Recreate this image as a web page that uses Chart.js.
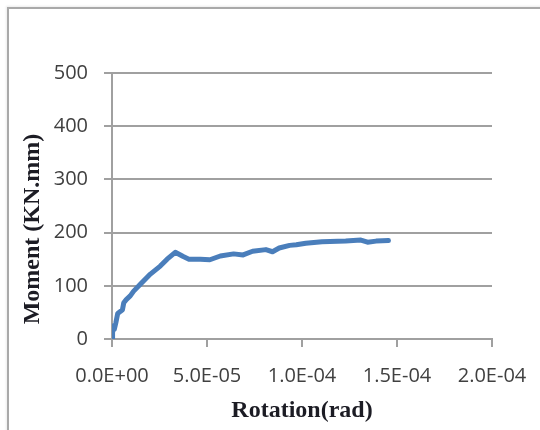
<!DOCTYPE html>
<html>
<head>
<meta charset="utf-8">
<script src="https://cdn.jsdelivr.net/npm/chart.js@4/dist/chart.umd.min.js"></script>
<style>
  html, body { margin: 0; padding: 0; background: #ffffff; }
  #wrap { position: relative; width: 540px; height: 430px; overflow: hidden; }
  #frame {
    position: absolute; left: 7px; top: 7px; width: 560px; height: 460px;
    border-top: 2px solid #a9a9a9; border-left: 2px solid #a9a9a9;
    box-shadow: -1px -1px 2px rgba(0,0,0,0.08);
    pointer-events: none;
  }
  canvas { position: absolute; left: 0; top: 0; }
</style>
</head>
<body>
<div id="wrap">
  <canvas id="chart" width="540" height="430"></canvas>
  <div id="frame"></div>
</div>
<script>
// Moment–rotation response
const rotation = [0, 0.3e-6, 0.8e-6, 1.2e-6, 2.0e-6, 3.0e-6, 4.5e-6, 5.5e-6, 6.2e-6, 7.5e-6,
  9.6e-6, 11.4e-6, 14.9e-6, 20.2e-6, 25.4e-6, 29.0e-6, 33.3e-6, 37.5e-6, 40.5e-6, 46.5e-6,
  51.5e-6, 57.0e-6, 64.0e-6, 69.0e-6, 74.0e-6, 81.0e-6, 84.5e-6, 88.0e-6, 93.5e-6, 97.0e-6,
  102.0e-6, 110.5e-6, 123.0e-6, 131.0e-6, 134.5e-6, 139.0e-6, 145.5e-6];
const moment = [0, 12, 25, 18, 30, 48, 52, 55, 68, 74,
  81, 90, 103, 122, 137, 150, 163, 155, 150, 150,
  149, 156, 160, 158, 165, 168, 164, 171, 176, 177,
  180, 183, 184, 186, 182, 184, 185];

const xTickValues = [0, 5e-5, 1e-4, 1.5e-4, 2e-4];
const xTickLabels = ['0.0E+00', '5.0E-05', '1.0E-04', '1.5E-04', '2.0E-04'];
const yTickValues = [0, 100, 200, 300, 400, 500];

const xTitle = 'Rotation(rad)';
const yTitle = 'Moment (KN.mm)';

const points = rotation.map((r, i) => ({ x: r, y: moment[i] }));

const gridGray = '#a0a0a0';
const tickFont = { family: '"Open Sans", sans-serif', size: 20 };
const titleFont = 'bold 24px "Liberation Serif", "Times New Roman", serif';

// axis captions drawn after the chart
const captions = {
  id: 'captions',
  afterDraw(chart) {
    const { ctx, chartArea } = chart;
    ctx.save();
    ctx.fillStyle = '#1c1c24';
    ctx.font = titleFont;
    ctx.textAlign = 'center';
    ctx.textBaseline = 'middle';
    ctx.fillText(xTitle, (chartArea.left + chartArea.right) / 2, 411);
    ctx.translate(33, 229);
    ctx.rotate(-Math.PI / 2);
    ctx.fillText(yTitle, 0, 0);
    ctx.restore();
  }
};

new Chart(document.getElementById('chart'), {
  type: 'scatter',
  data: {
    datasets: [{
      data: points,
      showLine: true,
      borderColor: '#4a7ebb',
      backgroundColor: '#4a7ebb',
      borderWidth: 5,
      borderJoinStyle: 'round',
      borderCapStyle: 'round',
      pointRadius: 0,
      tension: 0
    }]
  },
  options: {
    responsive: false,
    animation: false,
    devicePixelRatio: 1,
    layout: { padding: { left: 0, top: 73, right: 48, bottom: 0 } },
    plugins: { legend: { display: false }, tooltip: { enabled: false } },
    scales: {
      x: {
        type: 'linear',
        min: 0, max: 2e-4,
        afterBuildTicks(scale) { scale.ticks = xTickValues.map(v => ({ value: v })); },
        afterFit(scale) {
          scale.height = 91;
          // let the end labels overhang into the page margin
          scale.paddingLeft = 0;
          scale.paddingRight = 0;
        },
        grid: { drawOnChartArea: false, drawTicks: true, tickLength: 8, color: gridGray, lineWidth: 2 },
        border: { display: true, color: gridGray, width: 2 },
        ticks: {
          padding: 17,
          color: '#404040',
          font: tickFont,
          maxRotation: 0,
          autoSkip: false,
          callback: (v, i) => xTickLabels[i]
        }
      },
      y: {
        type: 'linear',
        min: 0, max: 500,
        afterBuildTicks(scale) { scale.ticks = yTickValues.map(v => ({ value: v })); },
        afterFit(scale) { scale.width = 112; },
        grid: { drawOnChartArea: true, drawTicks: true, tickLength: 8, color: gridGray, lineWidth: 2 },
        border: { display: true, color: gridGray, width: 2 },
        ticks: { padding: 16, color: '#404040', font: tickFont }
      }
    }
  },
  plugins: [captions]
});
</script>
</body>
</html>
